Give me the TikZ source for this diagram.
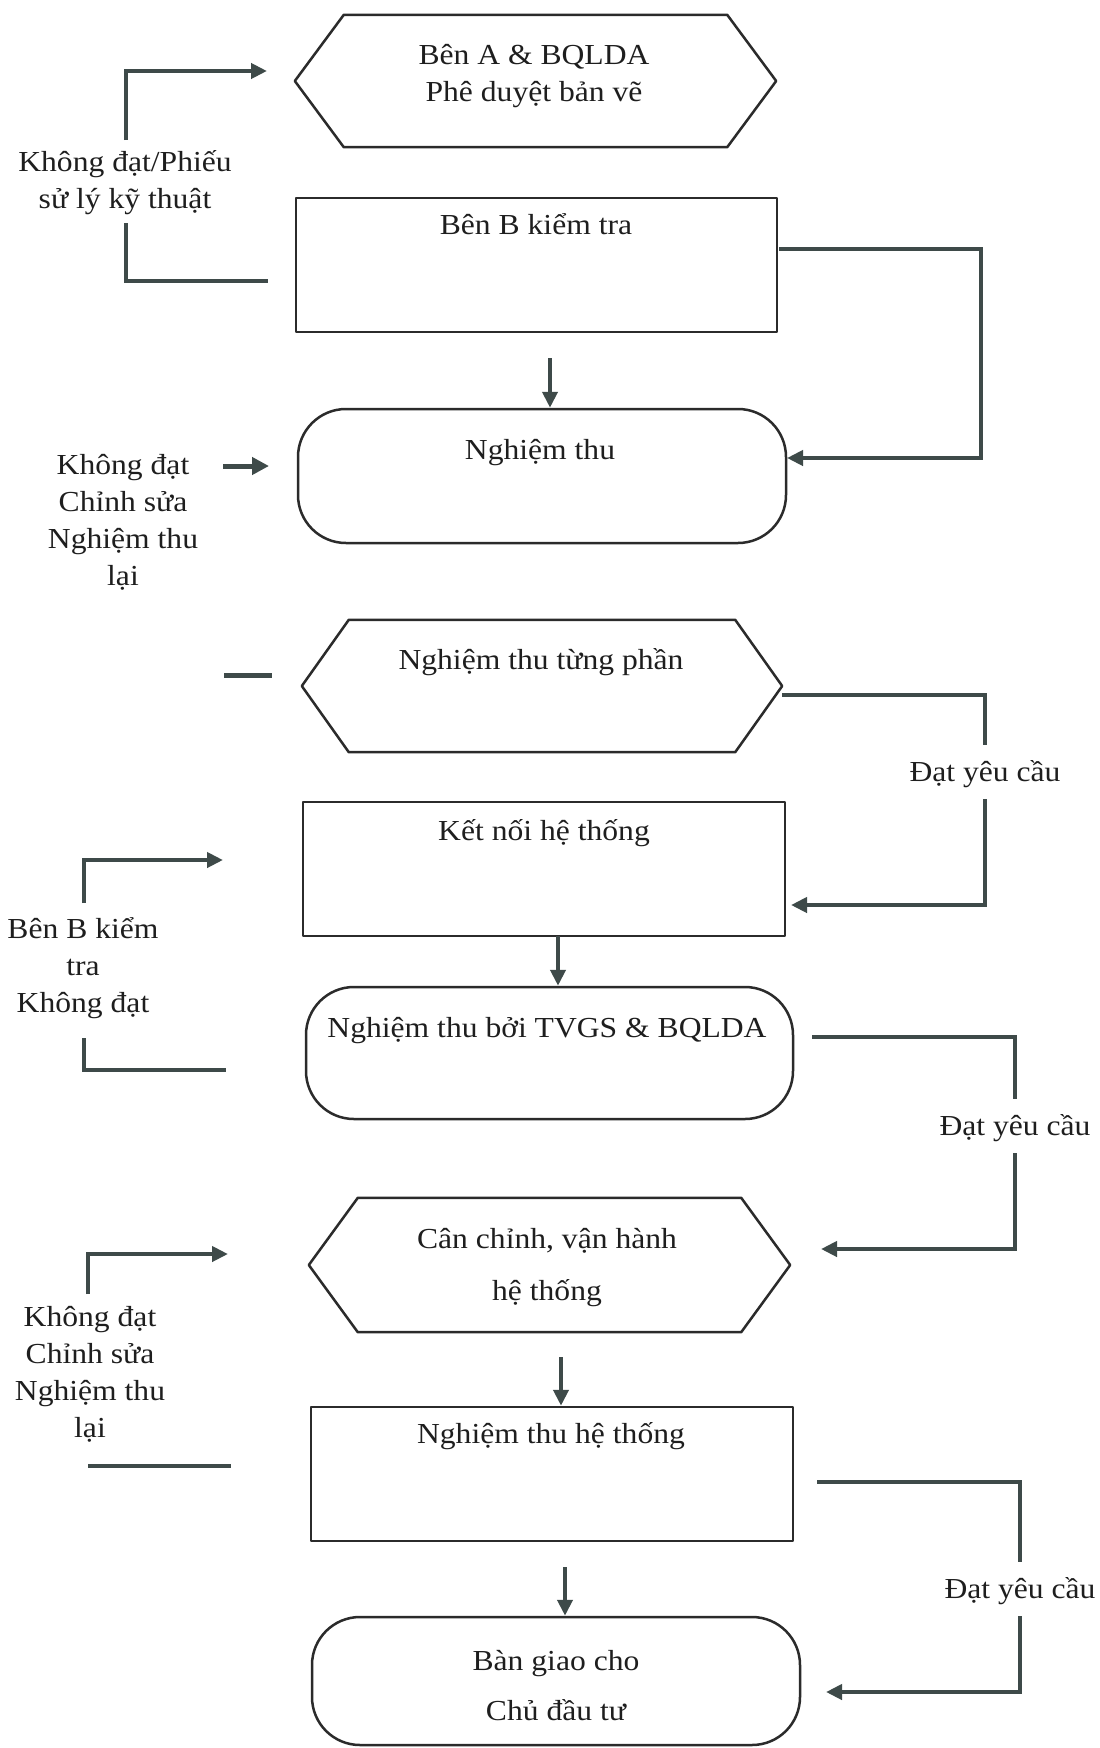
\documentclass[tikz,border=0pt]{standalone}
\usepackage{fontspec}
\setmainfont{Liberation Serif}[FakeStretch=1.09]
\usetikzlibrary{arrows.meta}
\definecolor{conn}{HTML}{3E4A49}
\definecolor{edgec}{HTML}{2B2B2B}
\definecolor{ink}{HTML}{1E1E1E}
\begin{document}
\begin{tikzpicture}[x=1pt,y=-1pt,
  font=\fontsize{29}{37}\selectfont,
  txt/.style={text=ink, align=center, inner sep=0pt, anchor=base},
  side/.style={text=ink, align=center, inner sep=0pt, text height=20pt, text depth=1.5pt, minimum height=54pt},
  outline/.style={draw=edgec, line width=2.5pt, line join=round},
  rectbox/.style={outline, rectangle, inner sep=0pt},
  stadium/.style={rectbox, rounded corners=48pt},
  hexholder/.style={rectangle, inner sep=0pt, draw=none},
  link/.style={draw=conn, line width=4pt},
  linkarrow/.style={link, -{Triangle[length=16pt,width=15pt]}},
  fatarrow/.style={draw=conn, line width=5pt, -{Triangle[length=17pt,width=17pt]}}]
\useasboundingbox (0,0) rectangle (1100,1748);
\fill[white] (0,0) rectangle (1100,1748);

% ---------- shapes ----------
\node[hexholder, minimum width=481pt, minimum height=132pt] (h1) at (535.5,81) {};
\draw[outline] (h1.west) -- ([xshift=49pt]h1.north west) -- ([xshift=-49pt]h1.north east) -- (h1.east) -- ([xshift=-49pt]h1.south east) -- ([xshift=49pt]h1.south west) -- cycle;
\node[rectbox, minimum width=481pt, minimum height=134pt] (r2) at (536.5,265) {};
\node[stadium, minimum width=488pt, minimum height=134pt] (s1) at (542,476) {};
\node[hexholder, minimum width=480pt, minimum height=132pt] (h2) at (542,686) {};
\draw[outline] (h2.west) -- ([xshift=47pt]h2.north west) -- ([xshift=-47pt]h2.north east) -- (h2.east) -- ([xshift=-47pt]h2.south east) -- ([xshift=47pt]h2.south west) -- cycle;
\node[rectbox, minimum width=482pt, minimum height=134pt] (r3) at (544,869) {};
\node[stadium, minimum width=487pt, minimum height=132pt] (s2) at (549.5,1053) {};
\node[hexholder, minimum width=481pt, minimum height=134pt] (h3) at (549.5,1265) {};
\draw[outline] (h3.west) -- ([xshift=49pt]h3.north west) -- ([xshift=-49pt]h3.north east) -- (h3.east) -- ([xshift=-49pt]h3.south east) -- ([xshift=49pt]h3.south west) -- cycle;
\node[rectbox, minimum width=482pt, minimum height=134pt] (r4) at (552,1474) {};
\node[stadium, minimum width=488pt, minimum height=128pt] (s3) at (556,1681) {};

% ---------- texts in shapes (placed at baseline of last line) ----------
\node[txt] (t1) at (534,101) {Bên A \& BQLDA\\Phê duyệt bản vẽ};
\node[txt] (t2) at (536,234) {Bên B kiểm tra};
\node[txt] (t3) at (540,459) {Nghiệm thu};
\node[txt] (t4) at (541,669) {Nghiệm thu từng phần};
\node[txt] (t5) at (544,840) {Kết nối hệ thống};
\node[txt] (t6) at (547,1037) {Nghiệm thu bởi TVGS \& BQLDA};
\node[txt] (t7) at (547,1300) {Cân chỉnh, vận hành\\[15pt]hệ thống};
\node[txt] (t8) at (551,1443) {Nghiệm thu hệ thống};
\node[txt] (t9) at (556,1720) {Bàn giao cho\\[13pt]Chủ đầu tư};

% ---------- side labels ----------
\node[txt] (lab1) at (125,208) {Không đạt/Phiếu\\sử lý kỹ thuật};
\node[txt] (lab2) at (123,585) {Không đạt\\Chỉnh sửa\\Nghiệm thu\\lại};
\node[txt] (lab3) at (83,1012) {Bên B kiểm\\tra\\Không đạt};
\node[txt] (lab4) at (90,1437) {Không đạt\\Chỉnh sửa\\Nghiệm thu\\lại};
\node[side] (d1) at (985,772) {Đạt yêu cầu};
\node[side] (d2) at (1015,1126) {Đạt yêu cầu};
\node[side] (d3) at (1020,1589) {Đạt yêu cầu};

% ---------- down arrows ----------
\coordinate (a1s) at (550,358);
\draw[linkarrow] (a1s) -- (a1s |- s1.north);
\coordinate (a2s) at (558,936);
\draw[linkarrow] (a2s) -- (a2s |- s2.north);
\coordinate (a3s) at (561,1357);
\draw[linkarrow] (a3s) -- (a3s |- r4.north);
\coordinate (a4s) at (565,1567);
\draw[linkarrow] (a4s) -- (a4s |- s3.north);

% ---------- right connectors ----------
\coordinate (c1a) at (779,249);
\coordinate (c1k) at (981,350);
\coordinate (c1b) at (787,458);
\draw[linkarrow] (c1a) -| (c1k) |- (c1b);

\coordinate (c2a) at (782,695);
\coordinate (c2b) at (791,905);
\draw[link] (c2a) -| (d1.north);
\draw[linkarrow] (d1.south) |- (c2b);

\coordinate (c3a) at (812,1037);
\coordinate (c3b) at (821,1249);
\draw[link] (c3a) -| (d2.north);
\draw[linkarrow] (d2.south) |- (c3b);

\coordinate (c4a) at (817,1482);
\coordinate (c4b) at (826,1692);
\draw[link] (c4a) -| (d3.north);
\draw[linkarrow] (d3.south) |- (c4b);

% ---------- left connectors ----------
\coordinate (l1a) at (126,140);
\coordinate (l1b) at (267,71);
\draw[linkarrow] (l1a) |- (l1b);
\coordinate (l1c) at (126,223);
\coordinate (l1d) at (268,281);
\draw[link] (l1c) |- (l1d);

\coordinate (l2a) at (223,466);
\coordinate (l2b) at (269,466);
\draw[fatarrow] (l2a) -- (l2b);

\coordinate (l3a) at (224,675);
\coordinate (l3b) at (272,675);
\draw[link, line width=5pt] (l3a) -- (l3b);

\coordinate (l4a) at (84,903);
\coordinate (l4b) at (223,860);
\draw[linkarrow] (l4a) |- (l4b);
\coordinate (l4c) at (84,1038);
\coordinate (l4d) at (226,1070);
\draw[link] (l4c) |- (l4d);

\coordinate (l5a) at (88,1294);
\coordinate (l5b) at (228,1254);
\draw[linkarrow] (l5a) |- (l5b);
\coordinate (l6a) at (88,1466);
\coordinate (l6b) at (231,1466);
\draw[link] (l6a) -- (l6b);
\end{tikzpicture}
\end{document}
